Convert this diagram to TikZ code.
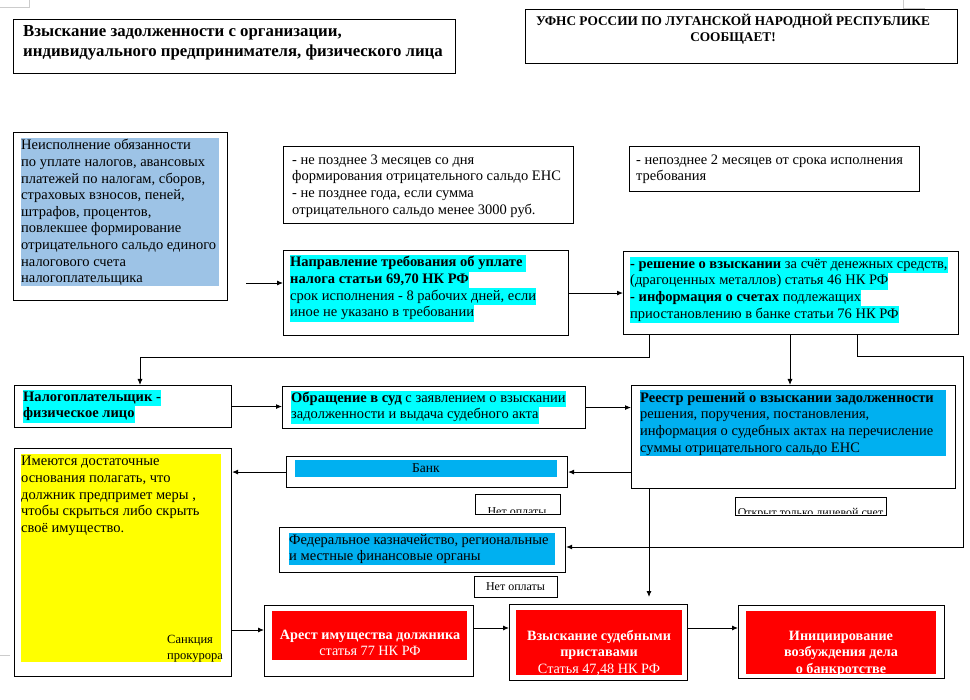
\documentclass[tikz,border=0pt]{standalone}
\usepackage{fontspec}
\setmainfont{Liberation Serif}
\usetikzlibrary{arrows.meta}
\definecolor{lblue}{HTML}{9DC3E6}
\definecolor{hcyan}{HTML}{00FFFF}
\definecolor{sblue}{HTML}{00B0F0}
\definecolor{ryel}{HTML}{FFFF00}
\definecolor{rred}{HTML}{FF0000}
\newcommand\hl[1]{{\setlength{\fboxsep}{0pt}\colorbox{hcyan}{\strut #1}}}
\newcommand\fb{\fontsize{14.5}{16.6}\selectfont}
\newcommand\bx[5]{\node[box, minimum width={#4pt-#2pt}, minimum height={#5pt-#3pt}] (#1) at (#2,#3) {};}
\newcommand\fl[5]{\fill[#1] (#2,#3) rectangle (#4,#5);}
\begin{document}
\begin{tikzpicture}[x=1pt,y=-1pt,
  box/.style={draw, line width=1.1pt, inner sep=0pt, anchor=north west},
  txt/.style={anchor=north west, inner sep=0pt, align=left, font=\fb},
  ctxt/.style={anchor=north, inner sep=0pt, align=center, font=\fontsize{14.2}{16.6}\selectfont},
  small/.style={inner sep=0pt, font=\fontsize{12}{14}\selectfont},
  arr/.style={-{Latex[length=6pt,width=5pt]}, line width=0.9pt},
  ln/.style={line width=0.9pt}]
\useasboundingbox (0,0) rectangle (970,700);
% page corner marks
\draw[gray!40, line width=0.6pt] (0,7) -- (29,7) -- (29,0);
\draw[gray!40, line width=0.6pt] (903,0) -- (903,8) -- (925,8);
\draw[gray!40, line width=0.6pt] (0,655) -- (10,655);
% titles
\bx{T1}{13}{19}{455}{73}
\node[txt, font=\fontsize{16.8}{20}\selectfont\bfseries] (T1t) at (23,25) {Взыскание задолженности с организации,\\индивидуального предпринимателя, физического лица};
\bx{T2}{525}{9}{957}{63}
\node[ctxt, font=\fontsize{13.3}{15.5}\selectfont\bfseries] (T2t) at (733,14) {УФНС РОССИИ ПО ЛУГАНСКОЙ НАРОДНОЙ РЕСПУБЛИКЕ\\СООБЩАЕТ!};
% box A
\bx{A}{13}{132}{227}{300}
\fl{lblue}{21}{138}{219}{286}
\node[txt] (At) at (21,138) {\strut Неисполнение обязанности\\\strut по уплате налогов, авансовых\\\strut платежей по налогам, сборов,\\\strut страховых взносов, пеней,\\\strut штрафов, процентов,\\\strut повлекшее формирование\\\strut отрицательного сальдо единого\\\strut налогового счета\\\strut налогоплательщика};
% box B
\bx{B}{283}{146}{573}{223}
\node[txt] (Bt) at (292,152.5) {\strut - не позднее 3 месяцев со дня\\\strut формирования отрицательного сальдо ЕНС\\\strut - не позднее года, если сумма\\\strut отрицательного сальдо менее 3000 руб.};
% box C
\bx{C}{629}{146}{919}{191}
\node[txt] (Ct) at (636,152.5) {\strut - непозднее 2 месяцев от срока исполнения\\\strut требования};
% box D
\bx{D}{283}{250}{568}{335}
\node[txt] (Dt) at (290,255) {\hl{\textbf{Направление требования об уплате }}\\\hl{\textbf{налога статьи 69,70 НК РФ}}\\\hl{срок исполнения - 8 рабочих дней, если}\\\hl{иное не указано в требовании}};
% box E
\bx{E}{623}{251}{958}{334}
\node[txt] (Et) at (630,256.5) {\hl{\textbf{- решение о взыскании} за счёт денежных средств,}\\\hl{(драгоценных металлов) статья 46 НК РФ}\\\hl{\textbf{- информация о счетах} подлежащих}\\\hl{приостановлению в банке статьи 76 НК РФ}};
% box F
\bx{F}{14}{385}{231}{427}
\node[txt] (Ft) at (23,389.5) {\hl{\textbf{Налогоплательщик -}}\\\hl{\textbf{физическое лицо}}};
% box G
\bx{G}{282}{386}{585}{428}
\node[txt] (Gt) at (291,390.5) {\hl{\textbf{Обращение в суд} с заявлением о взыскании}\\\hl{задолженности и выдача судебного акта}};
% box H
\bx{H}{631}{385}{955}{488}
\fl{sblue}{640}{390}{946}{456}
\node[txt] (Ht) at (640,390.5) {\strut\textbf{Реестр решений о взыскании задолженности}\\\strut решения, поручения, постановления,\\\strut информация о судебных актах на перечисление\\\strut суммы отрицательного сальдо ЕНС};
% yellow box I
\bx{I}{14}{448}{231}{676}
\fl{ryel}{21}{454}{221}{662}
\node[txt] (It) at (21,454) {\strut Имеются достаточные\\\strut основания полагать, что\\\strut должник предпримет меры ,\\\strut чтобы скрыться либо скрыть\\\strut своё имущество.};
\node[txt, font=\fontsize{12.5}{16}\selectfont] (Is) at (167,632.5) {\strut Санкция\\\strut прокурора};
% bank J
\bx{J}{286}{456}{567}{487}
\fl{sblue}{295}{460}{557}{477}
\node[small, font=\fontsize{13.5}{16}\selectfont] (Jt) at (426,468.5) {Банк};
% no payment 1 (text cut off by the box bottom)
\begin{scope}
\clip (475,494) rectangle (560,513);
\node[small] (NP1t) at (517,512) {Нет оплаты};
\end{scope}
\bx{NP1}{475}{494}{560}{514}
% open account label (text cut off by the box bottom)
\begin{scope}
\clip (735,497) rectangle (886,514);
\node[small] (OLt) at (810.5,513.5) {Открыт только лицевой счет};
\end{scope}
\bx{OL}{735}{497}{886}{515}
% fed K
\bx{K}{279}{527}{565}{572}
\fl{sblue}{289}{533}{555}{565}
\node[txt] (Kt) at (289,532.5) {\strut Федеральное казначейство, региональные\\\strut и местные финансовые органы};
% no payment 2
\bx{NP2}{474}{576}{557}{597}
\node[small] (NP2t) at (515.5,586.5) {Нет оплаты};
% bottom red boxes
\bx{L}{264}{605}{473}{676}
\fl{rred}{272}{611}{467}{660}
\node[ctxt, text=white] (Lt) at (370,627.5) {\strut\textbf{Арест имущества должника}\\\strut статья 77 НК РФ};
\bx{M}{509}{604}{687}{680}
\fl{rred}{516}{610}{682}{675}
\node[ctxt, text=white] (Mt) at (599,628.5) {\strut\textbf{Взыскание судебными}\\\strut\textbf{приставами}\\\strut Статья 47,48 НК РФ};
\bx{N}{738}{605}{944}{678}
\fl{rred}{746}{611}{936}{674}
\node[ctxt, text=white] (Nt) at (841,628.5) {\strut\textbf{Инициирование}\\\strut\textbf{возбуждения дела}\\\strut\textbf{о банкротстве}};
% helper coordinates
\coordinate (x140) at (140,0);
\coordinate (x649) at (649,0);
\coordinate (x790) at (790,0);
\coordinate (x857) at (857,0);
\coordinate (x963) at (963,0);
\coordinate (y547) at (0,547);
\coordinate (y630) at (0,630);
\coordinate (y628) at (0,628);
\coordinate (s0) at (246,283);
% connectors
\draw[arr] (s0) -- (s0 -| D.west);
\draw[arr] (D.east) -- (D.east -| E.west);
\draw[arr] (E.south -| x649) -- ++(0,22) -| (F.north -| x140);
\draw[arr] (E.south -| x790) -- (H.north -| x790);
\draw[arr] (E.south -| x857) -- ++(0,21) -| (y547 -| x963) -- (y547 -| K.east);
\draw[arr] (F.east) -- (F.east -| G.west);
\draw[arr] (G.east) -- (G.east -| H.west);
\draw[arr] (H.west |- J.east) -- (J.east);
\draw[arr] (J.west) -- (J.west -| I.east);
\draw[arr, shorten >=7pt] (H.south -| x649) -- (M.north -| x649);
\draw[arr] (y630 -| I.east) -- (y630 -| L.west);
\draw[arr] (y628 -| L.east) -- (y628 -| M.west);
\draw[arr] (y628 -| M.east) -- (y628 -| N.west);
\end{tikzpicture}
\end{document}
